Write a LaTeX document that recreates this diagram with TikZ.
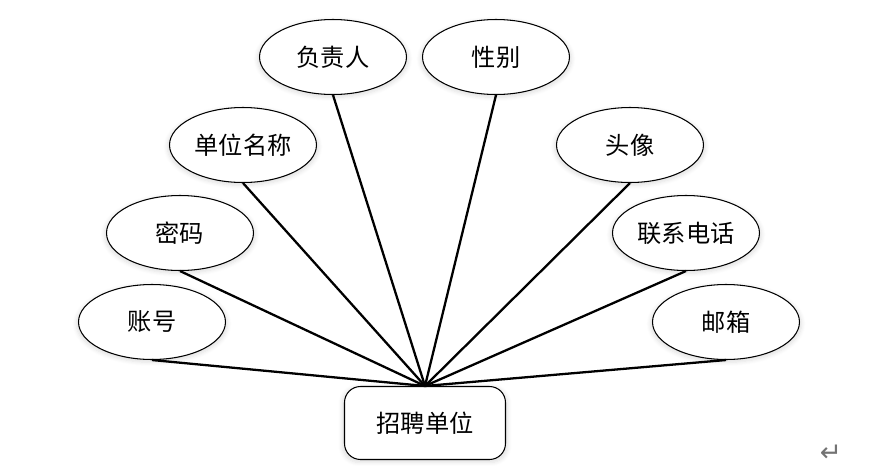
\documentclass[tikz,border=0pt]{standalone}
\usepackage{fontspec}
\setmainfont{Noto Sans CJK SC}
\newfontfamily\symfont{DejaVu Sans}
\usetikzlibrary{shapes.geometric,shadows.blur}

\begin{document}
\begin{tikzpicture}[x=0.02cm,y=-0.02cm,every node/.style={font=\fontsize{13.8pt}{16pt}\selectfont},
attr/.style={draw, ellipse, inner sep=0pt, line width=0.6pt, minimum width=2.94cm, minimum height=1.5cm, fill=white,
  blur shadow={shadow xshift=0pt, shadow yshift=-1pt, shadow blur steps=6, shadow opacity=12, shadow scale=1.03}},
entity/.style={draw, rounded corners=0.32cm, line width=0.6pt, minimum width=3.22cm, minimum height=1.46cm, fill=white,
  blur shadow={shadow xshift=0pt, shadow yshift=-1pt, shadow blur steps=6, shadow opacity=12, shadow scale=1.03}},
link/.style={line width=1.3pt}]
\useasboundingbox (0,0) rectangle (894,474);
% entity
\node[entity] (unit) at (425,423) {招聘单位};
% attributes, left side
\node[attr] (acct) at (152,322) {账号};
\node[attr] (pwd) at (180,233) {密码};
\node[attr] (uname) at (243,145) {单位名称};
\node[attr] (boss) at (333,57) {负责人};
% attributes, right side
\node[attr] (sex) at (496,57) {性别};
\node[attr] (photo) at (630,145) {头像};
\node[attr] (tel) at (686,233) {联系电话};
\node[attr] (mail) at (726,322) {邮箱};
% links
\foreach \a in {acct,pwd,uname,boss,sex,photo,tel,mail}
  \draw[link] (\a.south) -- (unit.north);
\node[font=\symfont\fontsize{15pt}{17pt}\selectfont, text=black!55] (ret) at (831,453) {↵};
\end{tikzpicture}
\end{document}
